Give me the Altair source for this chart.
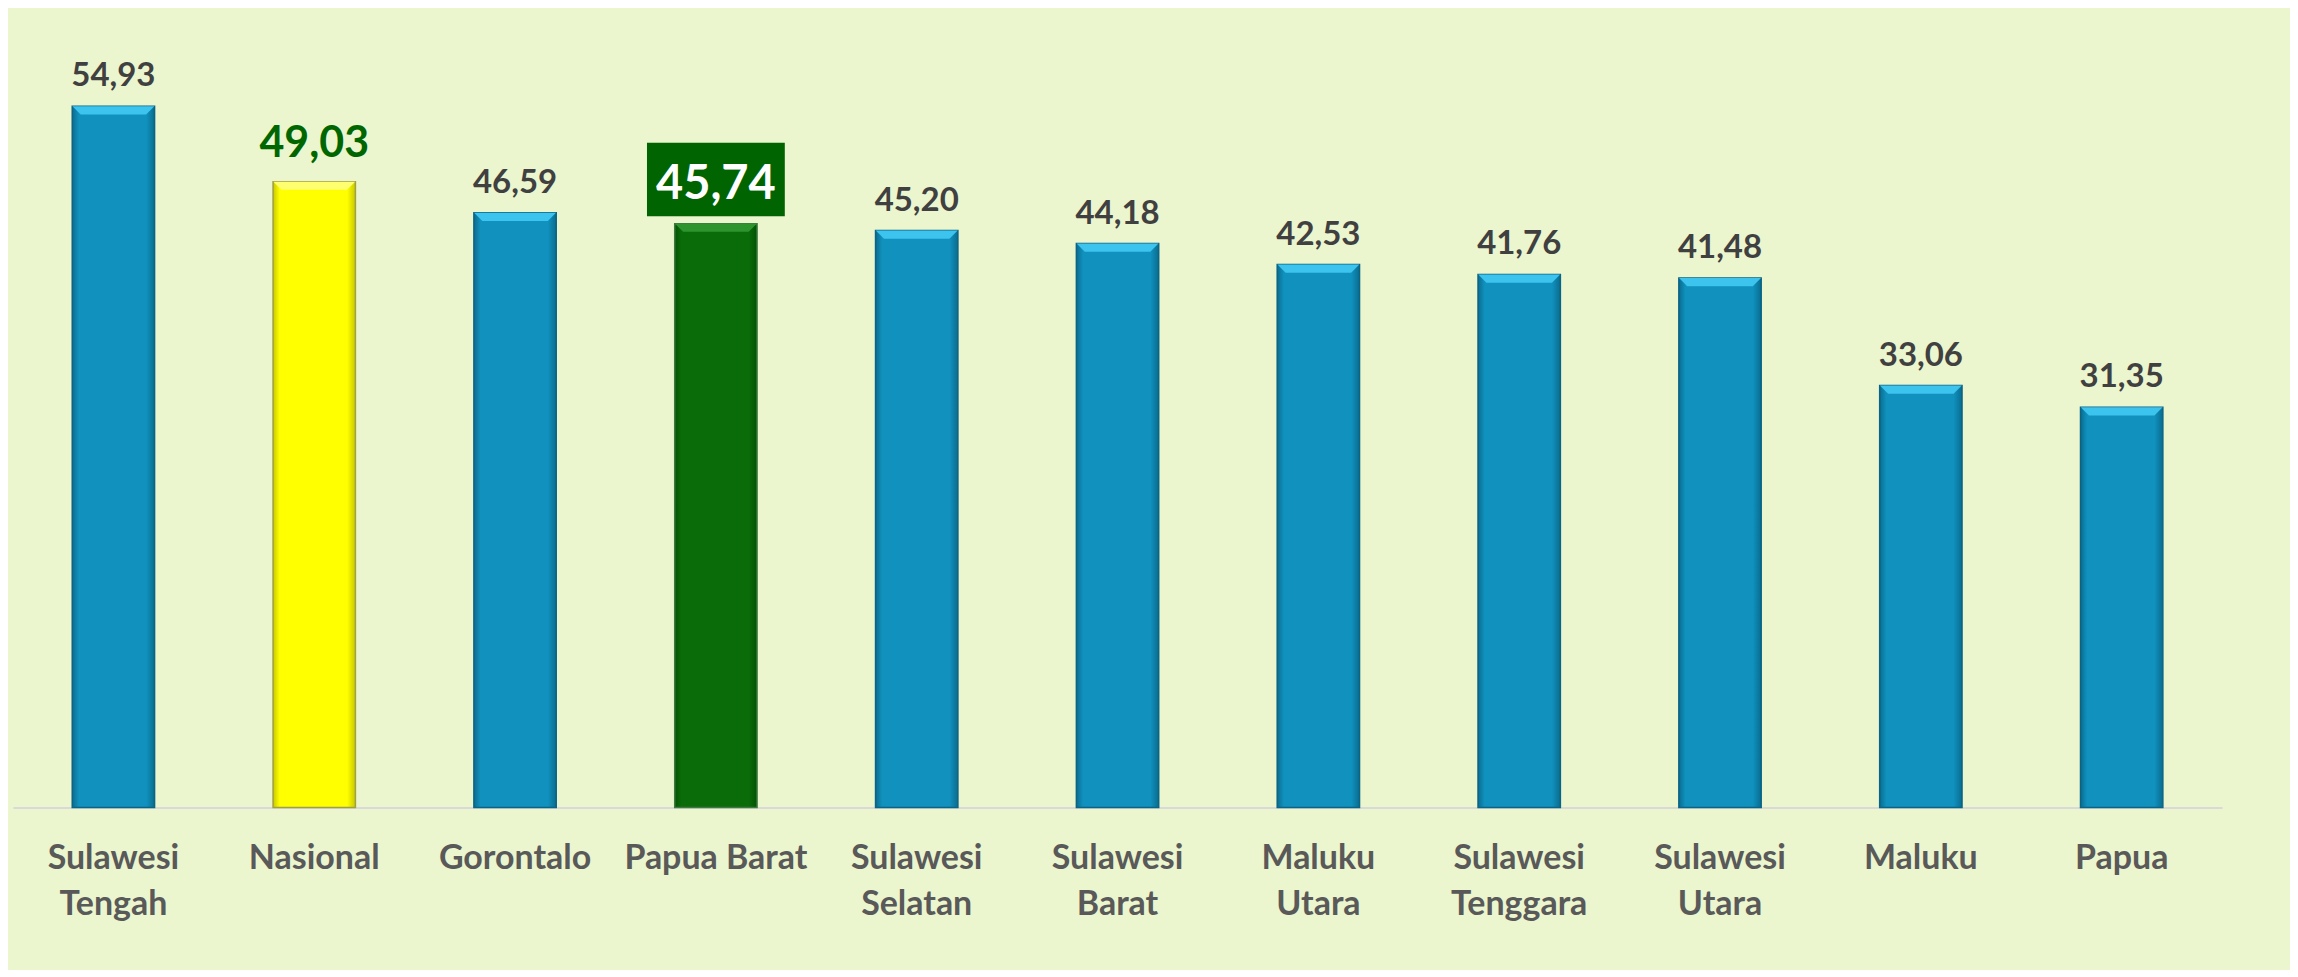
import altair as alt
import pandas as pd

regions = ["Sulawesi Tengah", "Nasional", "Gorontalo", "Papua Barat", "Sulawesi Selatan",
           "Sulawesi Barat", "Maluku Utara", "Sulawesi Tenggara", "Sulawesi Utara", "Maluku", "Papua"]
values = [54.93, 49.03, 46.59, 45.74, 45.20, 44.18, 42.53, 41.76, 41.48, 33.06, 31.35]
kinds = ["prov", "nas", "prov", "focus", "prov", "prov", "prov", "prov", "prov", "prov", "prov"]
value_labels = ["54,93", "49,03", "46,59", "45,74", "45,20", "44,18", "42,53", "41,76", "41,48", "33,06", "31,35"]

df = pd.DataFrame({"region": regions, "value": values, "kind": kinds, "label": value_labels})

FONT = "Lato"
BG = "#EBF5CE"

x_enc = alt.X("region:N", sort=regions,
              scale=alt.Scale(paddingInner=0.59, paddingOuter=0.295),
              axis=alt.Axis(title=None, labelAngle=0, ticks=False, domainColor="#D9D9D9",
                            domainWidth=2, labelFont=FONT, labelFontSize=34, labelFontWeight="bold",
                            labelColor="#595959", labelPadding=34, labelLineHeight=46, labelLimit=0,
                            labelExpr="datum.label == 'Papua Barat' ? datum.label : split(datum.label, ' ')"))
y_enc = alt.Y("value:Q", scale=alt.Scale(domain=[0, 60], nice=False, zero=True), axis=None)

base = alt.Chart(df)

def grad(c_edge, c_mid):
    return alt.Gradient(gradient="linear", x1=0, x2=1, y1=0, y2=0,
                        stops=[alt.GradientStop(color=c_edge, offset=0),
                               alt.GradientStop(color=c_mid, offset=0.08),
                               alt.GradientStop(color=c_mid, offset=0.9),
                               alt.GradientStop(color=c_edge, offset=1)])

bars_prov = base.transform_filter("datum.kind == 'prov'").mark_bar(
    fill=grad("#0B6C8E", "#1091BE"), stroke="#0A6485", strokeWidth=1.5
).encode(x=x_enc, y=y_enc)
bars_nas = base.transform_filter("datum.kind == 'nas'").mark_bar(
    fill=grad("#C8C800", "#FFFF00"), stroke="#A0A040", strokeWidth=1.5
).encode(x=x_enc, y=y_enc)
bars_focus = base.transform_filter("datum.kind == 'focus'").mark_bar(
    fill=grad("#045204", "#096C09"), stroke="#3E7A3E", strokeWidth=1.5
).encode(x=x_enc, y=y_enc)

bevel_path = "M-1,0L1,0L0.8,0.2L-0.8,0.2Z"
bevel_size = 82 * 82

def bevel(kind, color):
    return base.transform_filter(f"datum.kind == '{kind}'").mark_point(
        shape=bevel_path, size=bevel_size, filled=True, fill=color, opacity=1, strokeWidth=0
    ).encode(x=x_enc, y=y_enc)

bev = bevel("prov", "#3CC3EE") + bevel("nas", "#FFFF70") + bevel("focus", "#2E952E")

lab_prov = base.transform_filter("datum.kind == 'prov'").mark_text(
    baseline="bottom", dy=-13, font=FONT, fontSize=33, fontWeight="bold", color="#404040"
).encode(x=x_enc, y=y_enc, text="label:N")
lab_nas = base.transform_filter("datum.kind == 'nas'").mark_text(
    baseline="bottom", dy=-16, font=FONT, fontSize=43, fontWeight="bold", color="#006600"
).encode(x=x_enc, y=y_enc, text="label:N")

box_path = "M-1,-1.174L1,-1.174L1,-0.106L-1,-0.106Z"
box = base.transform_filter("datum.kind == 'focus'").mark_point(
    shape=box_path, size=138 * 138, filled=True, fill="#006400", opacity=1, strokeWidth=0
).encode(x=x_enc, y=y_enc)
lab_focus = base.transform_filter("datum.kind == 'focus'").mark_text(
    baseline="alphabetic", dy=-25, font=FONT, fontSize=47, fontWeight="bold", color="#FFFFFF"
).encode(x=x_enc, y=y_enc, text="label:N")

chart = alt.layer(bars_prov, bars_nas, bars_focus, bev, lab_prov, lab_nas, box, lab_focus).properties(
    width=2212, height=767,
    padding={"left": 5, "top": 33, "right": 68, "bottom": 48},
    background=BG,
).configure_view(stroke=None)

chart.save("out.html", embed_options={"renderer": "svg", "actions": False})
